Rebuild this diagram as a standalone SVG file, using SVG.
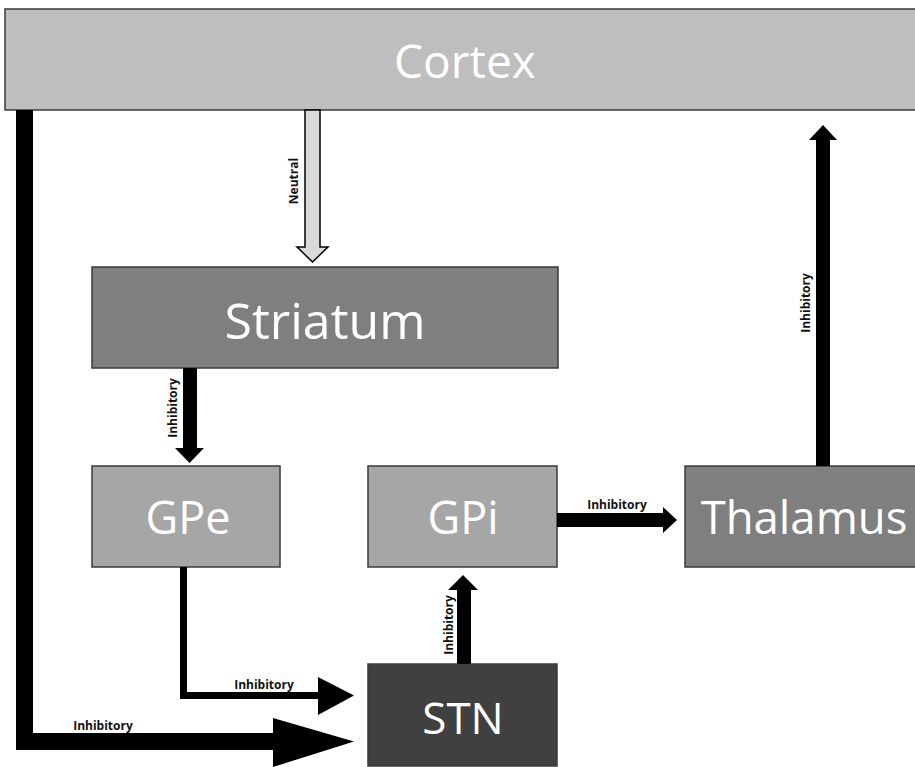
<svg xmlns="http://www.w3.org/2000/svg" width="915" height="767" viewBox="0 0 915 767">
<style>
.box{stroke:#3a3a3a;stroke-width:1.5}
.big{font-family:"Open Sans","Liberation Sans",sans-serif;fill:#fff;text-anchor:middle}
.lbl{font-family:"Open Sans","Liberation Sans",sans-serif;font-weight:700;font-size:12px;fill:#111;text-anchor:middle}
.arr{fill:#000}
</style>
<rect width="915" height="767" fill="#fff"/>
<g id="cortex">
<rect class="box" x="5" y="9" width="912" height="101" fill="#bebebe"/>
<text class="big" x="465" y="78" font-size="46">Cortex</text>
</g>
<g id="striatum">
<rect class="box" x="92" y="267" width="466" height="101" fill="#7f7f7f"/>
<text class="big" x="325" y="339" font-size="50">Striatum</text>
</g>
<g id="gpe">
<rect class="box" x="92" y="466" width="188" height="101" fill="#a6a6a6"/>
<text class="big" x="188" y="534" font-size="45">GPe</text>
</g>
<g id="gpi">
<rect class="box" x="368" y="466" width="189" height="101" fill="#a6a6a6"/>
<text class="big" x="463" y="534" font-size="45">GPi</text>
</g>
<g id="thalamus">
<rect class="box" x="685" y="466" width="232" height="101" fill="#7f7f7f"/>
<text class="big" x="804" y="534" font-size="45.5">Thalamus</text>
</g>
<g id="stn">
<rect class="box" x="368" y="664" width="189" height="102" fill="#404040"/>
<text class="big" x="463" y="734" font-size="44">STN</text>
</g>
<g id="connectors">
<polygon points="305,110 320,110 320,247 328,247 312.5,262 297,247 305,247" fill="#d9d9d9" stroke="#000" stroke-width="1.5"/>
<text class="lbl" transform="translate(298,181) rotate(-90)">Neutral</text>
<polygon class="arr" points="183,368 197,368 197,448 204,448 189.5,463 175,448 183,448"/>
<text class="lbl" transform="translate(177,408) rotate(-90)">Inhibitory</text>
<polygon class="arr" points="16,110 33,110 33,733 273,733 273,718 354,741.5 273,767 273,750 16,750"/>
<text class="lbl" x="103" y="730">Inhibitory</text>
<polygon class="arr" points="180,567 187,567 187,692 318,692 318,677 354,695.5 318,715 318,699 180,699"/>
<text class="lbl" x="264" y="689">Inhibitory</text>
<polygon class="arr" points="557,513 663,513 663,507 677,520 663,533 663,527 557,527"/>
<text class="lbl" x="617" y="509">Inhibitory</text>
<polygon class="arr" points="816,466 830,466 830,140 837,140 823,125 809,140 816,140"/>
<text class="lbl" transform="translate(810,303) rotate(-90)">Inhibitory</text>
<polygon class="arr" points="457,664 471,664 471,590 478,590 463,575 448,590 457,590"/>
<text class="lbl" transform="translate(453,625) rotate(-90)">Inhibitory</text>
</g>
</svg>
